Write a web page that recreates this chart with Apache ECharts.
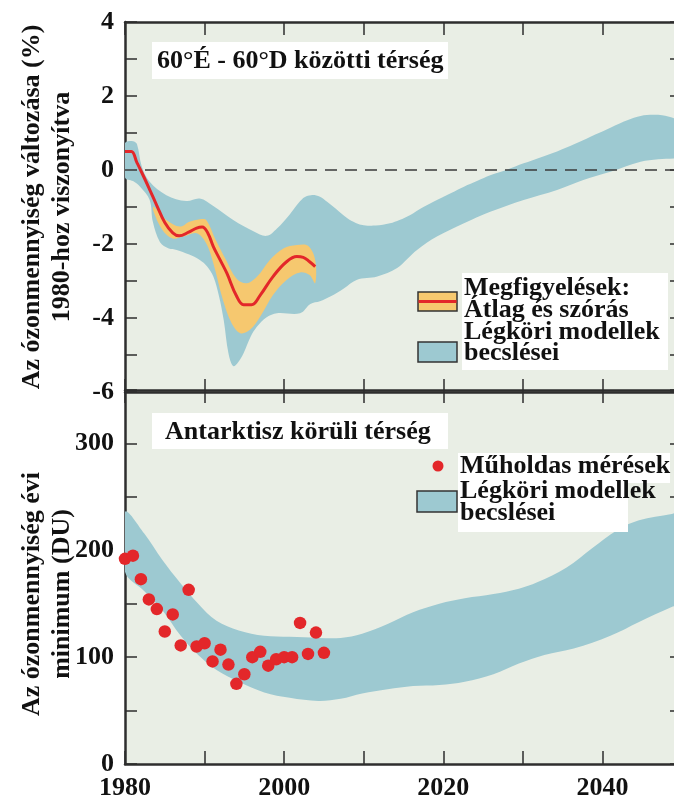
<!DOCTYPE html>
<html>
<head>
<meta charset="utf-8">
<script src="https://cdn.jsdelivr.net/npm/echarts@6/dist/echarts.min.js"></script>
<style>
  html, body { margin: 0; padding: 0; background: #fff; }
  #chart { width: 674px; height: 796px; }
</style>
</head>
<body>
<div id="chart"></div>
<script>
// ---- Upper panel: total ozone change (%) relative to 1980, 60°N-60°S ----
const obsYears = [1980, 1980.8, 1981.5, 1982, 1983, 1984, 1985, 1986, 1986.8, 1988, 1989, 1989.7, 1990.4,
  1991.1, 1992, 1992.8, 1994, 1994.9, 1995.9, 1997, 1998.6, 2000.3, 2001.6, 2002.4, 2003.2, 2003.9];
const obsMean = [0.5, 0.5, 0.2, -0.02, -0.48, -0.96, -1.42, -1.7, -1.78, -1.68, -1.57, -1.54, -1.7,
  -2.07, -2.45, -2.79, -3.4, -3.64, -3.64, -3.38, -2.88, -2.48, -2.34, -2.36, -2.48, -2.61];

const obsUpperYears = [1983.6, 1985.2, 1986.9, 1988.1, 1989.4, 1990.2, 1991.4, 1992.7, 1994, 1995.3,
  1996.6, 1998.2, 1999.9, 2001.6, 2003, 2003.9];
const obsUpper = [-0.99, -1.35, -1.53, -1.4, -1.33, -1.35, -1.89, -2.43, -2.93, -3.06,
  -2.88, -2.43, -2.12, -2.03, -2.05, -2.43];
const obsLowerYears = [1983.6, 1984.7, 1986, 1987.3, 1989, 1990.2, 1991.1, 1992.3, 1993.4, 1994.5,
  1995.7, 1997, 1998.6, 2000.3, 2002, 2003.2, 2003.9];
const obsLower = [-1.13, -1.62, -1.85, -1.8, -1.71, -1.98, -2.52, -3.51, -4.14, -4.41,
  -4.32, -3.96, -3.38, -2.97, -2.77, -2.84, -3.06];

const modelUpperYears = [1980, 1981, 1981.5, 1982.1, 1983.1, 1985.2, 1987.7, 1989.4, 1991.1, 1993.6,
  1996.2, 1997.8, 1999.1, 2000.7, 2002.4, 2003.4, 2004.5, 2005.4, 2006.5, 2007.9, 2009, 2010, 2011.5,
  2013.3, 2014.5, 2015.8, 2017.5, 2019.2, 2021, 2022.6, 2024.3, 2025.9, 2028, 2030.1, 2032.2, 2034.3,
  2036.5, 2038.5, 2040.6, 2042.7, 2044.4, 2046, 2047.5, 2049, 2050];
const modelUpper = [0.72, 0.78, 0.7, 0.1, -0.32, -0.68, -0.84, -0.77, -0.97, -1.35,
  -1.66, -1.78, -1.58, -1.2, -0.76, -0.68, -0.72, -0.86, -1.05, -1.3, -1.43, -1.49, -1.5,
  -1.44, -1.35, -1.22, -1.0, -0.81, -0.62, -0.45, -0.29, -0.14, 0.01, 0.18, 0.34, 0.5,
  0.7, 0.9, 1.1, 1.31, 1.44, 1.49, 1.48, 1.4, 1.3];
const modelLowerYears = [1980, 1981, 1981.9, 1983.1, 1983.5, 1984.4, 1985.5, 1986.5, 1988, 1989.4,
  1990.3, 1991.1, 1991.8, 1992.4, 1993, 1993.6, 1994.2, 1994.9, 1995.8, 1996.6, 1997.8, 1999.1, 2002,
  2003.3, 2004.5, 2005.8, 2007.5, 2009.1, 2011.7, 2014.2, 2015.5, 2016.7, 2019.2, 2022.6, 2025.9,
  2030.1, 2034.3, 2037.6, 2041, 2044.8, 2047, 2049, 2050];
const modelLower = [-0.2, -0.3, -0.45, -0.81, -1.4, -1.95, -2.12, -2.16, -2.28, -2.43,
  -2.6, -2.88, -3.4, -4.05, -4.95, -5.3, -5.2, -4.95, -4.5, -4.23, -3.98, -3.87, -3.87,
  -3.62, -3.55, -3.42, -3.2, -2.97, -2.88, -2.65, -2.4, -2.16, -1.8, -1.44, -1.13,
  -0.81, -0.54, -0.27, -0.05, 0.22, 0.29, 0.31, 0.32];

// ---- Lower panel: annual minimum ozone around Antarctica (DU) ----
const satYears = [1980, 1981, 1982, 1983, 1984, 1985, 1986, 1987, 1988, 1989, 1990, 1991, 1992,
  1993, 1994, 1995, 1996, 1997, 1998, 1999, 2000, 2001, 2002, 2003, 2004, 2005];
const satMin = [192, 195, 173, 154, 145, 124, 140, 111, 163, 110, 113, 96, 107,
  93, 75, 84, 100, 105, 92, 98, 100, 100, 132, 103, 123, 104];

const antUpperYears = [1980, 1982.4, 1984.7, 1987, 1989.2, 1991.5, 1994.3, 1997.5, 2000.7, 2004.3,
  2007.1, 2009.8, 2013, 2016.2, 2019.5, 2022.7, 2026.3, 2029.5, 2031.8, 2035.5, 2038.7, 2041.9,
  2044.6, 2048.7, 2050];
const antUpper = [236, 216, 191, 169, 150, 134, 125, 120, 119, 118,
  118, 122, 131, 142, 150, 155, 159, 164, 170, 184, 202, 219,
  228, 234, 235];
const antLowerYears = [1980, 1982.4, 1984.7, 1987, 1989.2, 1991.5, 1994.3, 1997.5, 2000.7, 2004.3,
  2007.1, 2009.8, 2013, 2016.2, 2019.5, 2022.7, 2026.3, 2029.5, 2032.7, 2036.4, 2041, 2044.6,
  2048.7, 2050];
const antLower = [180, 162, 144, 120, 102, 88, 77, 67, 62, 59,
  61, 66, 70, 73, 74, 77, 84, 94, 102, 108, 120, 133,
  147, 150];

// ---- Axis ticks ----
const yearMin = 1980, yearMax = 2050, yearTick = 10, yearLabelStep = 20;
const pctMin = -6, pctMax = 4, pctTick = 1, pctLabelStep = 2;
const duMin = 0, duMax = 350, duTick = 50, duLabelStep = 100;

const SERIF = '"Liberation Serif", "Times New Roman", serif';
const INK = '#111111';
const AXIS = '#2e2e2e';
const PLOT_BG = '#e9eee5';
const BLUE = '#9dc9d1';
const YELLOW = '#f6c86f';
const RED = '#e3272a';

const zip = (xs, ys) => xs.map((x, i) => [x, ys[i]]);

// Filled band between an upper and a lower edge, drawn through the axis scales
function bandSeries(xIdx, yIdx, upYears, up, loYears, lo, color, z) {
  const upper = zip(upYears, up);
  const lower = zip(loYears, lo);
  return {
    type: 'custom',
    xAxisIndex: xIdx,
    yAxisIndex: yIdx,
    z: z,
    silent: true,
    data: [0],
    renderItem: function (params, api) {
      const pts = upper.map(p => api.coord(p))
        .concat(lower.slice().reverse().map(p => api.coord(p)));
      const cs = params.coordSys;
      return {
        type: 'polygon',
        shape: { points: pts, smooth: 0.35 },
        style: { fill: color, stroke: null },
        clipPath: { type: 'rect', shape: { x: cs.x, y: cs.y, width: cs.width, height: cs.height } }
      };
    }
  };
}

function xAxisDef(grid, pos, showLabel) {
  return {
    type: 'value', gridIndex: grid, position: pos,
    min: yearMin, max: yearMax, interval: yearTick,
    axisLine: { show: true, onZero: false, lineStyle: { color: AXIS, width: 2.5 } },
    axisTick: { show: true, inside: true, length: 13, lineStyle: { color: AXIS, width: 1.5 } },
    axisLabel: {
      show: showLabel, margin: 11, color: INK,
      fontFamily: SERIF, fontWeight: 'bold', fontSize: 26,
      formatter: v => (v % yearLabelStep === 0 ? String(v) : '')
    },
    splitLine: { show: false }
  };
}

function yAxisDef(grid, pos, min, max, tick, step) {
  return {
    type: 'value', gridIndex: grid, position: pos,
    min: min, max: max, interval: tick,
    axisLine: { show: true, onZero: false, lineStyle: { color: AXIS, width: 2.5 } },
    axisTick: { show: true, inside: true, length: 12, lineStyle: { color: AXIS, width: 1.5 } },
    axisLabel: {
      show: pos === 'left', margin: 11, color: INK,
      fontFamily: SERIF, fontWeight: 'bold', fontSize: 26,
      formatter: v => (v % step === 0 ? String(v) : '')
    },
    splitLine: { show: false }
  };
}

const txt = (x, y, s) => ({
  type: 'text', x: x, y: y, z: 100,
  style: { text: s, font: 'bold 26px ' + SERIF, fill: INK, textAlign: 'left', textVerticalAlign: 'middle' }
});

const rect = (x, y, w, h, fill, stroke) => ({
  type: 'rect', z: 90, shape: { x: x, y: y, width: w, height: h },
  style: { fill: fill, stroke: stroke || null, lineWidth: stroke ? 1.5 : 0 }
});

const chart = echarts.init(document.getElementById('chart'), null, { renderer: 'canvas' });

chart.setOption({
  animation: false,
  backgroundColor: '#ffffff',
  grid: [
    { left: 125, top: 22, width: 557, height: 370, show: true, backgroundColor: PLOT_BG, borderWidth: 0,
      containLabel: false, outerBoundsMode: 'none' },
    { left: 125, top: 390, width: 557, height: 374, show: true, backgroundColor: PLOT_BG, borderWidth: 0,
      containLabel: false, outerBoundsMode: 'none' }
  ],
  xAxis: [
    xAxisDef(0, 'bottom', false),
    xAxisDef(0, 'top', false),
    xAxisDef(1, 'top', false),
    xAxisDef(1, 'bottom', true)
  ],
  yAxis: [
    yAxisDef(0, 'left', pctMin, pctMax, pctTick, pctLabelStep),
    yAxisDef(0, 'right', pctMin, pctMax, pctTick, pctLabelStep),
    yAxisDef(1, 'left', duMin, duMax, duTick, duLabelStep),
    yAxisDef(1, 'right', duMin, duMax, duTick, duLabelStep)
  ],
  series: [
    bandSeries(0, 0, modelUpperYears, modelUpper, modelLowerYears, modelLower, BLUE, 1),
    bandSeries(0, 0, obsUpperYears, obsUpper, obsLowerYears, obsLower, YELLOW, 2),
    {
      type: 'line', xAxisIndex: 0, yAxisIndex: 0, z: 4,
      data: zip(obsYears, obsMean),
      smooth: 0.4, showSymbol: false, symbol: 'none',
      lineStyle: { color: RED, width: 3 },
      markLine: {
        silent: true, symbol: 'none', z: 3,
        label: { show: false },
        lineStyle: { type: [12, 8], color: '#3a3a3a', width: 1.6 },
        data: [{ yAxis: 0 }]
      }
    },
    bandSeries(3, 2, antUpperYears, antUpper, antLowerYears, antLower, BLUE, 1),
    {
      type: 'scatter', xAxisIndex: 3, yAxisIndex: 2, z: 5,
      data: zip(satYears, satMin),
      symbol: 'circle', symbolSize: 12.5,
      itemStyle: { color: RED, opacity: 1 }
    }
  ],
  graphic: [
    // axis titles
    {
      type: 'text', x: 47, y: 207, rotation: Math.PI / 2, z: 100,
      style: {
        text: 'Az ózonmennyiség változása (%)\n1980-hoz viszonyítva',
        font: 'bold 26px ' + SERIF, fill: INK, lineHeight: 30,
        textAlign: 'center', textVerticalAlign: 'middle'
      }
    },
    {
      type: 'text', x: 47, y: 594, rotation: Math.PI / 2, z: 100,
      style: {
        text: 'Az ózonmennyiség évi\nminimum (DU)',
        font: 'bold 26px ' + SERIF, fill: INK, lineHeight: 30,
        textAlign: 'center', textVerticalAlign: 'middle'
      }
    },
    // panel titles
    rect(152, 42, 296, 37, '#ffffff'),
    txt(157, 61, '60°É - 60°D közötti térség'),
    rect(152, 413, 296, 36, '#ffffff'),
    txt(165, 432, 'Antarktisz körüli térség'),
    // upper legend
    rect(462, 273, 206, 97, '#ffffff'),
    rect(418, 292, 39, 19, YELLOW, '#333'),
    { type: 'line', z: 95, shape: { x1: 418.5, y1: 301.5, x2: 456.5, y2: 301.5 }, style: { stroke: RED, lineWidth: 3 } },
    rect(418, 342, 39, 20, BLUE, '#333'),
    txt(464, 288, 'Megfigyelések:'),
    txt(464, 310, 'Átlag és szórás'),
    txt(464, 332, 'Légköri modellek'),
    txt(464, 353, 'becslései'),
    // lower legend
    rect(458, 453, 212, 30, '#ffffff'),
    rect(458, 482, 170, 50, '#ffffff'),
    { type: 'circle', z: 95, shape: { cx: 438, cy: 466, r: 5.5 }, style: { fill: RED } },
    rect(417, 491, 40, 21, BLUE, '#333'),
    txt(460, 466, 'Műholdas mérések'),
    txt(460, 491, 'Légköri modellek'),
    txt(460, 513, 'becslései')
  ]
});
</script>
</body>
</html>
